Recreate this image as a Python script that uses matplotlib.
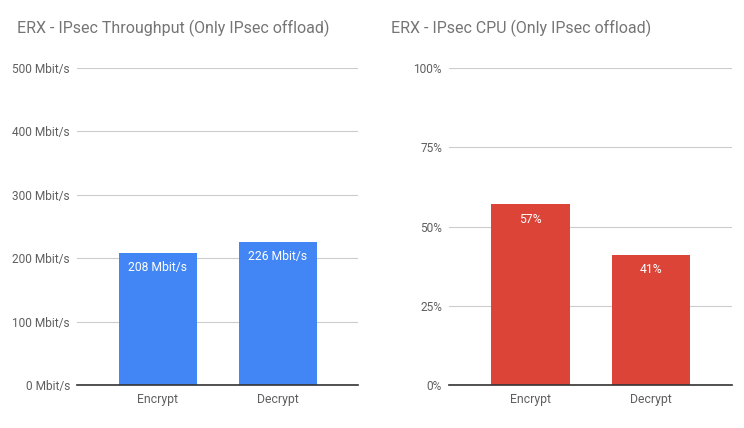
import matplotlib
matplotlib.use("Agg")
import matplotlib.pyplot as plt
from matplotlib.ticker import FixedLocator

plt.rcParams['font.family'] = ['Roboto', 'DejaVu Sans']

categories = ["Encrypt", "Decrypt"]
throughput = [208, 226]
throughput_labels = ["208 Mbit/s", "226 Mbit/s"]
throughput_ticks = [0, 100, 200, 300, 400, 500]
throughput_ticklabels = ["0 Mbit/s", "100 Mbit/s", "200 Mbit/s", "300 Mbit/s", "400 Mbit/s", "500 Mbit/s"]
cpu = [57, 41]
cpu_labels = ["57%", "41%"]
cpu_ticks = [0, 25, 50, 75, 100]
cpu_ticklabels = ["0%", "25%", "50%", "75%", "100%"]

fig = plt.figure(figsize=(7.44, 4.28), dpi=100)
ax1 = fig.add_axes([77/744, 43/428, 281/744, 317/428])
ax2 = fig.add_axes([449/744, 43/428, 283/744, 317/428])

def style(ax, vals, labels, ticks, ticklabels, color, ymax, title, title_x):
    x = list(range(len(categories)))
    bars = ax.bar(x, vals, width=0.65, color=color, zorder=3)
    ax.set_xlim(-0.675, 1.67)
    ax.set_ylim(0, ymax)
    ax.yaxis.set_major_locator(FixedLocator(ticks))
    ax.set_yticklabels(ticklabels)
    ax.set_xticks(x)
    ax.set_xticklabels(categories)
    ax.grid(axis='y', color='#cccccc', linewidth=0.8, zorder=0)
    for s in ['top', 'right', 'left']:
        ax.spines[s].set_visible(False)
    ax.spines['bottom'].set_color('#333333')
    ax.spines['bottom'].set_linewidth(1.2)
    ax.spines['bottom'].set_zorder(4)
    ax.tick_params(axis='y', length=0, labelsize=8.6, colors='#5f5f5f', pad=5)
    ax.tick_params(axis='x', length=0, labelsize=8.8, colors='#5f5f5f', pad=6)
    for b, lab in zip(bars, labels):
        ax.annotate(lab, (b.get_x() + b.get_width()/2, b.get_height()),
                    xytext=(0, -6), textcoords='offset points',
                    ha='center', va='top', color='white', fontsize=8.7, zorder=5)
    fig.text(title_x/744, 1 - 28/428, title, fontsize=11.5, color='#757575', ha='left', va='center')

style(ax1, throughput, throughput_labels, throughput_ticks, throughput_ticklabels,
      '#4285F4', 500, "ERX - IPsec Throughput (Only IPsec offload)", 17)
style(ax2, cpu, cpu_labels, cpu_ticks, cpu_ticklabels,
      '#DB4437', 100, "ERX - IPsec CPU (Only IPsec offload)", 391)

fig.savefig("out.png", dpi=100)
